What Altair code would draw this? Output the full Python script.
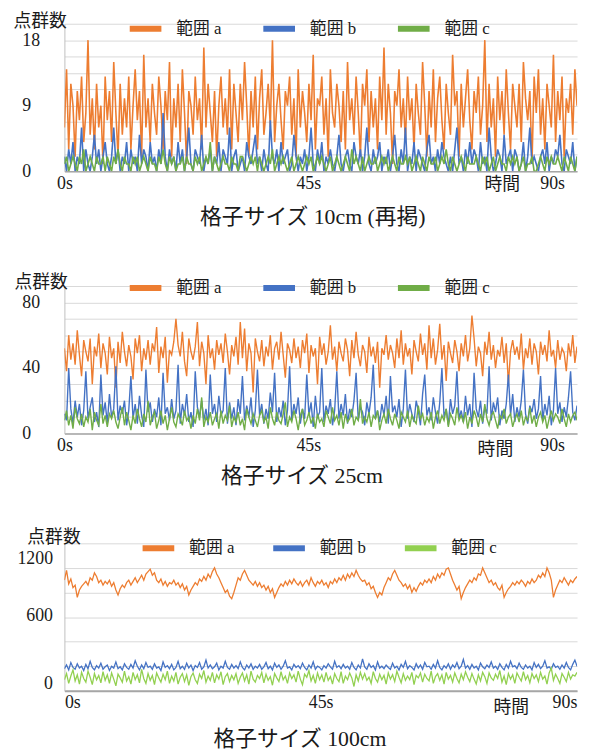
import altair as alt
import pandas as pd

SERIES = ["範囲 a", "範囲 b", "範囲 c"]
DT = 0.3958
X_MAX = 94.6
X_TICKS = [0, 45, 90]

# ---- 格子サイズ 10cm ----
a10 = [6, 14, 3, 12, 9, 2, 11, 7, 13, 4,
       8, 18, 5, 10, 3, 12, 6, 9, 1, 13,
       7, 11, 4, 15, 8, 2, 12, 5, 10, 6,
       13, 3, 9, 14, 7, 11, 2, 16, 6, 10,
       4, 12, 8, 5, 13, 9, 3, 11, 7, 15,
       2, 10, 6, 12, 4, 14, 8, 1, 11, 9,
       5, 13, 7, 10, 3, 17, 6, 12, 8, 4,
       11, 2, 9, 13, 6, 10, 5, 14, 3, 12,
       8, 4, 12, 7, 15, 9, 2, 11, 6, 13,
       3, 10, 14, 5, 8, 12, 6, 18, 4, 9,
       12, 7, 3, 11, 9, 13, 5, 10, 2, 14,
       6, 11, 8, 4, 12, 7, 16, 3, 10, 9,
       13, 5, 10, 2, 14, 8, 6, 12, 9, 4,
       11, 3, 15, 7, 10, 5, 13, 8, 2, 12,
       9, 14, 4, 11, 6, 10, 3, 13, 7, 17,
       5, 12, 8, 1, 11, 9, 14, 6, 10, 4,
       13, 7, 10, 3, 12, 8, 5, 15, 9, 2,
       11, 6, 14, 4, 10, 13, 7, 3, 12, 8,
       5, 16, 9, 11, 2, 12, 6, 10, 14, 7,
       3, 11, 8, 13, 5, 9, 18, 4, 12, 6,
       10, 2, 13, 7, 11, 5, 14, 8, 3, 12,
       9, 6, 12, 4, 15, 10, 7, 11, 1, 13,
       8, 14, 5, 10, 3, 12, 9, 6, 16, 4,
       11, 7, 13, 2, 10, 8, 12, 5, 14, 9]
b10 = [2, 0, 3, 1, 4, 0, 2, 1, 6, 0,
       3, 1, 0, 2, 5, 1, 3, 0, 2, 4,
       1, 0, 2, 6, 1, 3, 0, 2, 1, 4,
       0, 3, 1, 2, 0, 5, 1, 3, 2, 0,
       4, 1, 2, 0, 3, 1, 8, 2, 0, 3,
       1, 2, 0, 4, 1, 3, 0, 2, 6, 1,
       0, 3, 2, 1, 5, 0, 2, 1, 3, 0,
       2, 1, 4, 0, 3, 2, 1, 6, 0, 2,
       3, 0, 1, 2, 0, 4, 2, 1, 3, 5,
       1, 2, 0, 3, 1, 0, 7, 2, 1, 3,
       0, 4, 1, 2, 3, 0, 1, 5, 2, 0,
       2, 1, 3, 0, 2, 6, 1, 0, 3, 1,
       4, 0, 2, 1, 3, 1, 0, 2, 5, 1,
       0, 2, 3, 1, 0, 4, 2, 1, 3, 0,
       2, 6, 1, 0, 3, 1, 2, 4, 0, 2,
       1, 3, 0, 2, 5, 1, 0, 3, 1, 6,
       0, 2, 1, 4, 0, 3, 2, 1, 0, 3,
       5, 1, 2, 0, 3, 1, 4, 2, 1, 0,
       2, 0, 3, 6, 1, 2, 0, 3, 1, 4,
       1, 3, 2, 0, 4, 1, 2, 0, 6, 2,
       0, 1, 3, 2, 0, 5, 1, 2, 3, 0,
       3, 2, 0, 1, 4, 0, 2, 6, 1, 2,
       1, 0, 2, 3, 1, 4, 0, 2, 1, 3,
       2, 5, 1, 0, 3, 2, 1, 4, 0, 2]
c10 = [1, 2, 0, 1, 2, 1, 0, 2, 1, 3,
       0, 1, 2, 1, 0, 2, 1, 1, 2, 0,
       2, 1, 0, 2, 1, 3, 1, 0, 2, 1,
       1, 0, 2, 1, 2, 0, 1, 2, 1, 0,
       2, 1, 1, 0, 2, 1, 3, 1, 0, 2,
       1, 2, 0, 1, 1, 2, 0, 2, 1, 1,
       0, 2, 1, 2, 0, 1, 2, 1, 4, 0,
       2, 1, 0, 1, 2, 1, 1, 0, 2, 1,
       1, 0, 2, 2, 1, 0, 1, 2, 1, 2,
       0, 2, 1, 0, 1, 2, 1, 3, 0, 1,
       2, 1, 2, 1, 0, 1, 2, 0, 1, 2,
       1, 0, 1, 2, 1, 2, 0, 1, 2, 1,
       2, 1, 0, 1, 2, 0, 1, 2, 1, 0,
       1, 2, 1, 0, 3, 1, 2, 1, 0, 2,
       0, 1, 2, 1, 1, 2, 0, 1, 2, 1,
       2, 0, 1, 2, 1, 0, 2, 1, 1, 2,
       1, 2, 0, 1, 2, 1, 0, 2, 1, 0,
       2, 1, 1, 2, 0, 1, 2, 1, 3, 1,
       0, 2, 1, 0, 1, 2, 1, 0, 2, 1,
       1, 1, 2, 1, 0, 2, 1, 2, 0, 1,
       2, 0, 1, 2, 1, 1, 0, 2, 1, 2,
       1, 2, 0, 1, 2, 0, 1, 1, 2, 0,
       0, 1, 2, 1, 0, 2, 1, 2, 1, 1,
       2, 1, 0, 2, 1, 0, 2, 1, 0, 2]

# ---- 格子サイズ 25cm ----
a25 = [52, 38, 60, 45, 55, 42, 63, 48, 35, 57,
       50, 44, 58, 30, 53, 47, 61, 40, 55, 49,
       36, 59, 46, 52, 28, 56, 43, 62, 50, 41,
       54, 47, 33, 58, 49, 60, 38, 52, 45, 57,
       42, 55, 50, 65, 37, 53, 46, 59, 31, 51,
       48, 56, 70, 54, 47, 62, 44, 35, 58, 50,
       45, 53, 68, 41, 56, 49, 30, 60, 46, 52,
       39, 57, 48, 55, 43, 61, 50, 36, 54, 47,
       59, 42, 68, 46, 64, 38, 55, 49, 25, 58,
       50, 44, 57, 41, 53, 47, 60, 39, 52, 56,
       45, 62, 48, 34, 55, 51, 43, 58, 46, 53,
       40, 57, 49, 61, 37, 54, 47, 52, 30, 59,
       48, 55, 42, 50, 66, 45, 53, 38, 56, 49,
       44, 58, 51, 35, 57, 46, 62, 48, 41, 54,
       50, 37, 59, 47, 53, 43, 56, 28, 52, 48,
       60, 45, 54, 49, 40, 58, 46, 63, 42, 55,
       47, 52, 36, 57, 50, 44, 61, 48, 55, 39,
       66, 46, 58, 42, 51, 67, 45, 54, 32, 56,
       49, 43, 57, 50, 38, 55, 47, 60, 44, 52,
       72, 58, 41, 53, 49, 35, 56, 48, 62, 45,
       54, 40, 51, 47, 59, 43, 55, 30, 50, 57,
       48, 53, 45, 61, 39, 52, 46, 58, 42, 55,
       50, 36, 56, 48, 54, 44, 63, 47, 51, 40,
       57, 45, 52, 49, 38, 55, 47, 60, 43, 53]
b25 = [12, 8, 40, 15, 6, 20, 10, 18, 5, 14,
       38, 9, 16, 22, 7, 13, 4, 36, 11, 19,
       6, 24, 10, 15, 41, 8, 17, 12, 20, 5,
       14, 35, 9, 18, 6, 23, 11, 4, 39, 13,
       19, 7, 15, 10, 22, 5, 37, 12, 16, 8,
       21, 9, 14, 42, 6, 18, 11, 24, 7, 13,
       4, 38, 16, 10, 20, 8, 15, 5, 36, 12,
       18, 7, 23, 11, 14, 40, 6, 19, 9, 16,
       5, 21, 12, 35, 8, 17, 10, 22, 4, 14,
       39, 11, 18, 6, 15, 9, 25, 13, 37, 7,
       16, 10, 20, 5, 14, 41, 8, 18, 12, 22,
       6, 15, 9, 36, 11, 19, 4, 23, 10, 13,
       40, 7, 17, 12, 21, 5, 14, 38, 9, 18,
       11, 24, 6, 15, 10, 20, 37, 8, 16, 13,
       5, 19, 12, 22, 42, 9, 14, 7, 18, 11,
       23, 6, 35, 13, 17, 10, 21, 4, 15, 39,
       9, 18, 12, 7, 20, 14, 5, 24, 36, 11,
       16, 8, 22, 13, 6, 19, 40, 10, 15, 5,
       21, 12, 17, 38, 9, 14, 7, 23, 11, 18,
       4, 37, 15, 10, 20, 6, 16, 12, 41, 8,
       19, 13, 22, 5, 14, 9, 18, 36, 11, 24,
       7, 16, 10, 20, 39, 12, 6, 17, 13, 21,
       9, 15, 35, 8, 18, 11, 23, 5, 14, 40,
       12, 19, 7, 16, 10, 22, 38, 13, 8, 17]
c25 = [8, 14, 5, 11, 3, 16, 9, 6, 12, 4,
       10, 7, 15, 2, 13, 8, 5, 18, 6, 11,
       4, 12, 9, 14, 7, 3, 10, 16, 5, 13,
       8, 2, 11, 6, 15, 9, 4, 12, 7, 20,
       5, 10, 13, 3, 8, 14, 6, 11, 2, 9,
       16, 7, 4, 12, 9, 5, 14, 8, 10, 3,
       11, 6, 15, 8, 22, 4, 10, 7, 13, 5,
       9, 12, 3, 14, 6, 11, 8, 17, 4, 10,
       7, 13, 5, 9, 2, 15, 10, 6, 12, 8,
       4, 11, 14, 7, 10, 3, 16, 9, 5, 13,
       8, 6, 12, 19, 4, 10, 7, 14, 9, 2,
       11, 15, 5, 8, 13, 6, 10, 3, 12, 7,
       9, 4, 14, 10, 6, 16, 8, 11, 5, 13,
       3, 12, 7, 9, 15, 5, 10, 8, 21, 6,
       10, 7, 13, 4, 11, 9, 14, 2, 8, 12,
       6, 15, 9, 5, 12, 8, 3, 13, 10, 7,
       14, 4, 11, 8, 6, 17, 9, 12, 5, 10,
       7, 13, 3, 10, 14, 6, 11, 8, 15, 4,
       12, 9, 5, 16, 8, 11, 7, 13, 3, 10,
       6, 14, 10, 4, 12, 7, 18, 9, 5, 11,
       13, 8, 3, 11, 9, 15, 6, 10, 12, 4,
       9, 12, 7, 14, 5, 10, 8, 16, 6, 11,
       4, 10, 13, 7, 11, 3, 9, 14, 8, 12,
       10, 6, 15, 9, 4, 12, 7, 11, 13, 8]

# ---- 格子サイズ 100cm ----
a100 = [900, 980, 870, 910, 840, 860, 760, 820, 850, 870,
        890, 860, 920, 900, 960, 930, 880, 900, 860, 890,
        870, 900, 850, 880, 820, 780, 830, 860, 840, 880,
        900, 860, 890, 920, 880, 910, 940, 900, 950, 970,
        990, 940, 960, 900, 880, 910, 860, 890, 850, 880,
        870, 900, 860, 880, 840, 870, 820, 850, 780, 820,
        850, 880, 860, 910, 890, 930, 900, 950, 920, 970,
        1000, 950, 920, 880, 840, 800, 820, 770, 750, 800,
        860, 920, 900, 950, 980, 940, 900, 880, 860, 890,
        850, 880, 840, 860, 820, 850, 800, 830, 760, 800,
        840, 870, 850, 890, 860, 900, 870, 910, 880, 860,
        890, 850, 880, 900, 860, 920, 880, 850, 890, 870,
        900, 860, 880, 840, 890, 870, 910, 880, 920, 900,
        940, 900, 950, 920, 960, 930, 980, 940, 910, 890,
        900, 860, 880, 830, 850, 800, 760, 800, 780, 840,
        880, 920, 900, 950, 980, 940, 900, 880, 850, 870,
        830, 860, 800, 840, 810, 850, 880, 860, 900, 880,
        910, 880, 930, 900, 950, 920, 960, 940, 990, 1000,
        950, 900, 860, 820, 850, 750, 800, 840, 870, 900,
        880, 920, 900, 950, 940, 1000, 960, 920, 880, 900,
        860, 880, 840, 820, 860, 760, 800, 830, 850, 880,
        860, 890, 870, 900, 880, 850, 890, 870, 910, 880,
        900, 940, 920, 960, 930, 1000, 960, 900, 760, 820,
        860, 900, 880, 920, 890, 860, 900, 880, 910, 930]
b100 = [180, 210, 170, 230, 190, 175, 220, 185, 200, 165,
        215, 180, 240, 190, 170, 205, 185, 225, 175, 195,
        210, 165, 200, 185, 235, 180, 195, 170, 220, 190,
        175, 215, 185, 245, 200, 170, 210, 180, 230, 190,
        200, 175, 220, 185, 195, 165, 235, 190, 205, 180,
        215, 170, 190, 240, 180, 200, 175, 225, 185, 210,
        165, 205, 190, 230, 175, 195, 250, 185, 210, 180,
        195, 225, 170, 200, 185, 240, 190, 175, 215, 185,
        205, 180, 235, 190, 170, 210, 185, 220, 175, 200,
        185, 215, 175, 195, 230, 180, 200, 170, 225, 190,
        210, 175, 200, 245, 185, 195, 170, 215, 190, 205,
        180, 225, 190, 170, 210, 185, 235, 175, 200, 190,
        170, 205, 185, 220, 195, 175, 240, 190, 205, 180,
        215, 185, 200, 175, 230, 190, 170, 210, 185, 260,
        195, 175, 220, 190, 205, 170, 235, 185, 200, 180,
        210, 190, 175, 225, 185, 200, 170, 215, 190, 240,
        180, 205, 190, 170, 220, 185, 210, 175, 230, 195,
        200, 175, 215, 185, 245, 190, 170, 205, 185, 220,
        175, 210, 190, 230, 180, 200, 255, 185, 205, 175,
        215, 185, 200, 170, 225, 195, 180, 210, 190, 235,
        185, 200, 175, 220, 190, 170, 215, 185, 240, 195,
        205, 180, 225, 190, 175, 210, 185, 200, 170, 230,
        190, 215, 180, 200, 245, 185, 195, 175, 220, 190,
        200, 175, 210, 185, 230, 190, 170, 215, 250, 200]
c100 = [90, 140, 60, 120, 170, 80, 130, 55, 150, 100,
        70, 160, 110, 50, 140, 90, 125, 65, 155, 85,
        130, 60, 145, 95, 40, 135, 105, 70, 160, 80,
        115, 55, 150, 90, 130, 65, 175, 100, 60, 140,
        85, 125, 50, 145, 105, 70, 135, 90, 160, 60,
        120, 80, 150, 55, 110, 140, 75, 130, 45, 115,
        145, 90, 60, 135, 100, 165, 70, 120, 85, 150,
        65, 130, 95, 155, 50, 115, 140, 75, 125, 90,
        140, 60, 110, 145, 80, 130, 55, 160, 95, 70,
        125, 100, 150, 65, 135, 85, 115, 45, 140, 105,
        75, 155, 90, 120, 60, 145, 100, 130, 70, 160,
        95, 50, 135, 110, 165, 80, 125, 60, 145, 90,
        130, 70, 150, 85, 115, 55, 140, 100, 75, 155,
        60, 120, 90, 145, 105, 35, 130, 80, 150, 95,
        140, 85, 110, 60, 155, 100, 70, 135, 90, 125,
        55, 145, 95, 130, 75, 160, 110, 65, 140, 85,
        120, 90, 150, 50, 125, 105, 145, 70, 135, 100,
        80, 160, 60, 115, 140, 85, 130, 55, 150, 95,
        125, 70, 145, 100, 65, 135, 90, 155, 110, 75,
        140, 95, 55, 130, 80, 150, 115, 60, 145, 105,
        85, 135, 100, 165, 70, 120, 50, 140, 95, 130,
        60, 145, 110, 80, 155, 90, 125, 65, 140, 100,
        130, 75, 150, 95, 120, 55, 145, 185, 85, 135,
        100, 60, 140, 110, 75, 150, 95, 130, 120, 150]

FONT = "Liberation Serif, Noto Sans CJK JP, serif"
TXT = "#1a1a1a"
W, H = 518, 149


def make_panel(vals, colors, y_max, y_step, y_labels, subtitle, cfg):
    frames = []
    for name, v in zip(SERIES, vals):
        frames.append(pd.DataFrame({"t": [i * DT for i in range(len(v))], "v": v, "s": name}))
    df = pd.concat(frames, ignore_index=True)
    n = int(round(y_max / y_step))
    grid_vals = [round(y_step * k, 4) for k in range(n + 1)]
    test = " || ".join(f"datum.value == {l}" for l in y_labels)

    x_enc = alt.X(
        "t:Q",
        scale=alt.Scale(domain=[0, X_MAX], nice=False, zero=False),
        axis=alt.Axis(
            values=X_TICKS, labelExpr="datum.value + 's'", grid=False, ticks=False,
            labelFlush=False, labelFont=FONT, labelFontSize=18, labelColor=TXT,
            labelAlign=cfg["xalign"], labelPadding=3,
            domainColor="#A6A6A6", domainWidth=cfg["xdw"],
            title="時間", titleX=cfg["tx"], titleY=cfg["ty"], titleAlign="center",
            titleBaseline="middle", titleFont=FONT, titleFontSize=18,
            titleFontWeight="normal", titleColor=TXT,
        ),
    )
    y_enc = alt.Y(
        "v:Q",
        scale=alt.Scale(domain=[0, y_max], nice=False, zero=True),
        axis=alt.Axis(
            values=grid_vals, format="d", labelExpr=f"({test}) ? datum.label : ''",
            grid=True, gridColor="#D9D9D9", gridWidth=1, ticks=False,
            domainColor="#BFBFBF", labelFont=FONT, labelFontSize=18, labelColor=TXT,
            labelAlign=cfg["yalign"], labelPadding=cfg["ypad"], labelOverlap=False,
            labelBaseline="middle", labelOffset=cfg["yoff"],
            title="点群数", titleAngle=0, titleX=cfg["yx"], titleY=cfg["yy"],
            titleAlign="left", titleBaseline="middle", titleFont=FONT,
            titleFontSize=18, titleFontWeight="normal", titleColor=TXT,
        ),
    )
    legend = alt.Legend(
        orient="none", legendX=cfg["lx"], legendY=cfg["ly"], direction="horizontal",
        columns=3, title=None, symbolType="stroke", symbolSize=1024,
        symbolStrokeWidth=6, labelFont=FONT, labelFontSize=17, labelColor=TXT,
        labelOffset=12, columnPadding=cfg["cp"],
    )
    color = alt.Color("s:N", scale=alt.Scale(domain=SERIES, range=colors), legend=legend)
    layers = []
    for name in SERIES:
        layers.append(
            alt.Chart(df)
            .transform_filter(alt.datum.s == name)
            .mark_line(strokeWidth=cfg["sw"], clip=True)
            .encode(x=x_enc, y=y_enc, color=color)
        )
    return alt.layer(*layers).properties(
        width=W, height=H,
        title=alt.TitleParams(
            subtitle, orient="bottom", font=FONT, fontSize=22, fontWeight="normal",
            color=TXT, offset=cfg["to"], dx=cfg["tdx"],
        ),
    )


p1 = make_panel(
    [a10, b10, c10], ["#ED7D31", "#4472C4", "#70AD47"], 20.25, 2.25, [0, 9, 18],
    "格子サイズ 10cm (再掲)",
    dict(xalign="center", xdw=1.5, tx=442, ty=13, yalign="left", ypad=43, yx=-52, yy=-2,
         yoff=0, lx=63, ly=-14, cp=30, sw=1.6, to=14, tdx=-8),
)
p2 = make_panel(
    [a25, b25, c25], ["#ED7D31", "#4472C4", "#70AD47"], 90, 10, [0, 40, 80],
    "格子サイズ 25cm",
    dict(xalign="center", xdw=1.5, tx=435, ty=16, yalign="left", ypad=43, yx=-51, yy=-3,
         yoff=0, lx=63, ly=-17, cp=30, sw=1.4, to=8, tdx=-19),
)
p3 = make_panel(
    [a100, b100, c100], ["#ED7D31", "#4472C4", "#92D050"], 1200, 200, [0, 600, 1200],
    "格子サイズ 100cm",
    dict(xalign="left", xdw=2, tx=451, ty=17, yalign="right", ypad=12, yx=-38, yy=-6,
         yoff={"condition": [{"test": "datum.value == 1200", "value": 15},
                             {"test": "datum.value == 0", "value": -7}],
               "value": -2},
         lx=76, ly=-14, cp=27, sw=1.3, to=13, tdx=-21),
)

chart = (
    alt.vconcat(p1, p2, p3, spacing=42)
    .resolve_scale(color="independent")
    .configure_view(stroke=None)
    .properties(background="white", padding={"top": -2, "left": 5, "right": 5, "bottom": 5})
)
chart.save("out.html", embed_options={"renderer": "svg", "actions": False})
